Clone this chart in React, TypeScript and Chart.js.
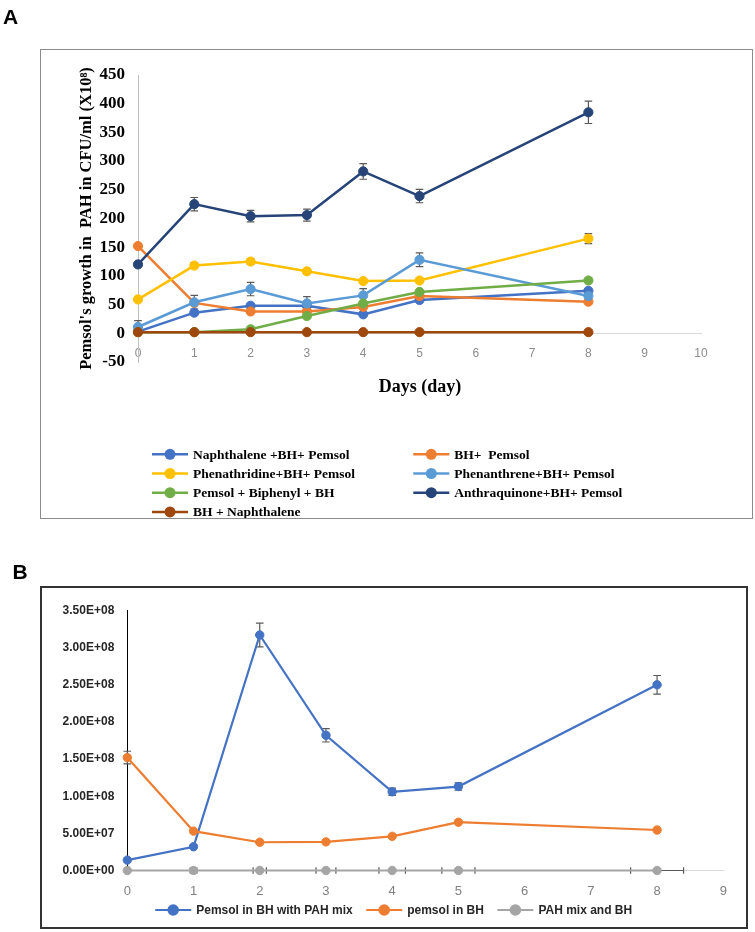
import React, { useEffect, useRef } from "react";
import { Chart, registerables } from "chart.js";

Chart.register(...registerables);

// ---------------- Panel A data ----------------
const daysA = [0, 1, 2, 3, 4, 5, 8];
const labelsA = [
  "Naphthalene +BH+ Pemsol",
  "BH+  Pemsol",
  "Phenathridine+BH+ Pemsol",
  "Phenanthrene+BH+ Pemsol",
  "Pemsol + Biphenyl + BH",
  "Anthraquinone+BH+ Pemsol",
  "BH + Naphthalene",
];
const colorsA = ["#4472C4", "#ED7D31", "#FFC000", "#5B9BD5", "#70AD47", "#264478", "#9E480E"];
const naphthaleneBhPemsol = [3, 36, 48, 48, 33, 58, 74];
const bhPemsol = [152, 53, 38, 38, 46, 65, 55];
const phenathridineBhPemsol = [59, 118, 125, 108, 91, 92, 165];
const phenanthreneBhPemsol = [11, 54, 77, 52, 66, 128, 65];
const pemsolBiphenylBh = [2, 2, 7, 30, 52, 72, 92];
const anthraquinoneBhPemsol = [120, 225, 204, 206, 282, 239, 385];
const bhNaphthalene = [2, 2, 2, 2, 2, 2, 2];
const noErr = [0, 0, 0, 0, 0, 0, 0];
const phenathridineErr = [0, 5, 5, 4, 3, 3, 8.7];
const phenanthreneErr = [11, 12, 11.6, 12, 12, 12, 0];
const anthraquinoneErr = [0, 11.6, 10, 10.5, 13.6, 11.6, 19.5];
const valuesA = [
  naphthaleneBhPemsol,
  bhPemsol,
  phenathridineBhPemsol,
  phenanthreneBhPemsol,
  pemsolBiphenylBh,
  anthraquinoneBhPemsol,
  bhNaphthalene,
];
const errorsA = [noErr, noErr, phenathridineErr, phenanthreneErr, noErr, anthraquinoneErr, noErr];
const yTitleA = "Pemsol's growth in  PAH in CFU/ml (X10\u2078)";
const xTitleA = "Days (day)";

// ---------------- Panel B data ----------------
const daysB = [0, 1, 2, 3, 4, 5, 8];
const labelsB = ["Pemsol in BH with PAH mix", "pemsol in BH", "PAH mix and BH"];
const colorsB = ["#4472C4", "#ED7D31", "#A5A5A5"];
const pemsolBhPahMix = [1.4e7, 3.2e7, 3.17e8, 1.82e8, 1.06e8, 1.13e8, 2.5e8];
const pemsolInBh = [1.52e8, 5.3e7, 3.8e7, 3.85e7, 4.6e7, 6.5e7, 5.45e7];
const pahMixBh = [0, 0, 0, 0, 0, 0, 0];
const pemsolBhPahMixErr = [0, 0, 1.6e7, 9e6, 5e6, 5e6, 1.25e7];
const pemsolInBhErr = [8.5e6, 0, 0, 0, 0, 0, 0];
const pahMixBhErrX = [0, 0.05, 0.1, 0.15, 0.2, 0.25, 0.4];

const SERIF = '"Liberation Serif", "Times New Roman", serif';
const SANS = '"Liberation Sans", Arial, sans-serif';

function toPoints(xs: number[], ys: number[]) {
  return xs.map((x, i) => ({ x, y: ys[i] }));
}

function sci(v: number): string {
  if (Math.abs(v) < 1e-9) return "0.00E+00";
  const e = Math.floor(Math.log10(Math.abs(v)) + 1e-9);
  const m = v / Math.pow(10, e);
  return m.toFixed(2) + "E" + (e < 0 ? "-" : "+") + String(Math.abs(e)).padStart(2, "0");
}

const errorBarPlugin = {
  id: "errorBars",
  beforeDatasetsDraw(chart: any) {
    const { ctx } = chart;
    const xs = chart.scales.x;
    const ys = chart.scales.y;
    ctx.save();
    ctx.strokeStyle = "#595959";
    ctx.lineWidth = 1.2;
    const cap = 3.8;
    chart.data.datasets.forEach((ds: any) => {
      ds.data.forEach((p: any, i: number) => {
        const px = xs.getPixelForValue(p.x);
        const py = ys.getPixelForValue(p.y);
        const ey = ds.errY ? ds.errY[i] : 0;
        if (ey) {
          const t = ys.getPixelForValue(p.y + ey);
          const b = ys.getPixelForValue(p.y - ey);
          ctx.beginPath();
          ctx.moveTo(px, t);
          ctx.lineTo(px, b);
          ctx.moveTo(px - cap, t);
          ctx.lineTo(px + cap, t);
          ctx.moveTo(px - cap, b);
          ctx.lineTo(px + cap, b);
          ctx.stroke();
        }
        const ex = ds.errX ? ds.errX[i] : 0;
        if (ex) {
          const l = xs.getPixelForValue(p.x - ex);
          const r = xs.getPixelForValue(p.x + ex);
          ctx.beginPath();
          ctx.moveTo(l, py);
          ctx.lineTo(r, py);
          ctx.moveTo(l, py - 3.3);
          ctx.lineTo(l, py + 3.3);
          ctx.moveTo(r, py - 3.3);
          ctx.lineTo(r, py + 3.3);
          ctx.stroke();
        }
      });
    });
    ctx.restore();
  },
};

function drawMarker(ctx: any, x: number, y: number, color: string, lw: number, r: number) {
  ctx.save();
  ctx.strokeStyle = color;
  ctx.lineWidth = lw;
  ctx.beginPath();
  ctx.moveTo(x, y);
  ctx.lineTo(x + 36, y);
  ctx.stroke();
  ctx.fillStyle = color;
  ctx.beginPath();
  ctx.arc(x + 18, y, r, 0, Math.PI * 2);
  ctx.fill();
  ctx.restore();
}

const legendAPlugin = {
  id: "legendA",
  afterDraw(chart: any) {
    const { ctx } = chart;
    const colX = [152, 413.3];
    const y0 = 454.3;
    const step = 19.2;
    chart.data.datasets.forEach((ds: any, i: number) => {
      const col = i % 2;
      const row = Math.floor(i / 2);
      const x = colX[col];
      const y = y0 + row * step;
      drawMarker(ctx, x, y, ds.borderColor, 2.5, 5.5);
      ctx.save();
      ctx.fillStyle = "#000";
      ctx.font = "bold 13.5px " + SERIF;
      ctx.textBaseline = "middle";
      ctx.textAlign = "left";
      ctx.fillText(ds.label, x + 41, y + 1);
      ctx.restore();
    });
    ctx.save();
    ctx.fillStyle = "#000";
    ctx.font = "bold 18px " + SERIF;
    ctx.textAlign = "center";
    ctx.textBaseline = "alphabetic";
    ctx.fillText(xTitleA, 420, 392);
    ctx.restore();
  },
};

const legendBPlugin = {
  id: "legendB",
  afterDraw(chart: any) {
    const { ctx } = chart;
    ctx.save();
    ctx.font = "bold 12px " + SANS;
    const widths = chart.data.datasets.map((ds: any) => ctx.measureText(ds.label).width);
    const gap = 13.5;
    const total = widths.reduce((a: number, w: number) => a + 41 + w, 0) + gap * (widths.length - 1);
    let x = 393.7 - total / 2;
    const y = 370;
    chart.data.datasets.forEach((ds: any, i: number) => {
      drawMarker(ctx, x, y, ds.borderColor, 2.2, 5.8);
      ctx.fillStyle = "#262626";
      ctx.font = "bold 12px " + SANS;
      ctx.textBaseline = "middle";
      ctx.textAlign = "left";
      ctx.fillText(ds.label, x + 41, y + 1);
      x += 41 + widths[i] + gap;
    });
    ctx.restore();
  },
};

function ChartA() {
  const ref = useRef<HTMLCanvasElement | null>(null);
  useEffect(() => {
    if (!ref.current) return;
    const n = valuesA.length;
    const chart = new Chart(ref.current, {
      type: "line",
      data: {
        datasets: valuesA.map((vals, i) => ({
          label: labelsA[i],
          data: toPoints(daysA, vals),
          borderColor: colorsA[i],
          backgroundColor: colorsA[i],
          pointBackgroundColor: colorsA[i],
          pointBorderColor: colorsA[i],
          borderWidth: 2.5,
          pointRadius: 4.6,
          pointBorderWidth: 1,
          tension: 0,
          clip: false,
          order: n - i,
          errY: errorsA[i],
        })) as any,
      },
      options: {
        animation: false,
        responsive: false,
        devicePixelRatio: 1,
        events: [],
        layout: { padding: { left: 73, right: 54, top: 75, bottom: 178 } },
        plugins: { legend: { display: false }, tooltip: { enabled: false }, title: { display: false } },
        scales: {
          x: {
            type: "linear",
            position: { y: 0 } as any,
            min: 0,
            max: 10,
            ticks: { stepSize: 1, color: "#8c8c8c", font: { family: SANS, size: 12 }, padding: 13, maxRotation: 0 },
            grid: { display: false, drawTicks: false },
            border: { display: true, color: "#D9D9D9", width: 1 },
          },
          y: {
            type: "linear",
            min: -50,
            max: 450,
            ticks: { stepSize: 50, color: "#000", font: { family: SERIF, size: 17, weight: "bold" }, padding: 13 },
            grid: { display: false, drawTicks: false },
            border: { display: true, color: "#BFBFBF", width: 1 },
            title: {
              display: true,
              text: yTitleA,
              color: "#000",
              font: { family: SERIF, size: 16.5, weight: "bold" },
              padding: { top: 4, bottom: 4 },
            },
            afterFit: (scale: any) => {
              scale.width = 65;
            },
          },
        },
      } as any,
      plugins: [errorBarPlugin, legendAPlugin],
    });
    return () => chart.destroy();
  }, []);
  return (
    <canvas
      ref={ref}
      width={755}
      height={540}
      style={{ position: "absolute", left: 0, top: 0, width: 755, height: 540 }}
    />
  );
}

function ChartB() {
  const ref = useRef<HTMLCanvasElement | null>(null);
  useEffect(() => {
    if (!ref.current) return;
    const vals = [pemsolBhPahMix, pemsolInBh, pahMixBh];
    const errY = [pemsolBhPahMixErr, pemsolInBhErr, null];
    const errX = [null, null, pahMixBhErrX];
    const chart = new Chart(ref.current, {
      type: "line",
      data: {
        datasets: vals.map((v, i) => ({
          label: labelsB[i],
          data: toPoints(daysB, v),
          borderColor: colorsB[i],
          backgroundColor: colorsB[i],
          pointBackgroundColor: colorsB[i],
          pointBorderColor: colorsB[i],
          borderWidth: 2.2,
          pointRadius: 4.2,
          pointBorderWidth: 1,
          tension: 0,
          clip: false,
          order: 3 - i,
          errY: errY[i],
          errX: errX[i],
        })) as any,
      },
      options: {
        animation: false,
        responsive: false,
        devicePixelRatio: 1,
        events: [],
        layout: { padding: { left: 37.3, right: 31.7, top: 70.5, bottom: 31.5 } },
        plugins: { legend: { display: false }, tooltip: { enabled: false }, title: { display: false } },
        scales: {
          x: {
            type: "linear",
            position: "bottom",
            min: 0,
            max: 9,
            ticks: { stepSize: 1, color: "#7f7f7f", font: { family: SANS, size: 13 }, padding: 12.7, maxRotation: 0 },
            grid: { display: false, drawTicks: false },
            border: { display: true, color: "#D9D9D9", width: 1 },
            afterFit: (scale: any) => {
              scale.height = 30;
            },
          },
          y: {
            type: "linear",
            min: 0,
            max: 3.5e8,
            ticks: {
              stepSize: 5e7,
              color: "#262626",
              font: { family: SANS, size: 12, weight: "bold" },
              padding: 13,
              callback: (v: any) => sci(Number(v)),
            },
            grid: { display: false, drawTicks: false },
            border: { display: true, color: "#000", width: 1 },
            afterFit: (scale: any) => {
              scale.width = 90;
            },
          },
        },
      } as any,
      plugins: [errorBarPlugin, legendBPlugin],
    });
    return () => chart.destroy();
  }, []);
  return (
    <canvas
      ref={ref}
      width={755}
      height={392}
      style={{ position: "absolute", left: 0, top: 540, width: 755, height: 392 }}
    />
  );
}

export default function App() {
  return (
    <div
      style={{
        position: "absolute",
        left: 0,
        top: 0,
        width: 755,
        height: 932,
        overflow: "hidden",
        background: "#fff",
      }}
    >
      <ChartA />
      <ChartB />
      <div
        style={{
          position: "absolute",
          left: 40,
          top: 49,
          width: 713,
          height: 470,
          boxSizing: "border-box",
          border: "1px solid #8c8c8c",
          pointerEvents: "none",
        }}
      />
      <div
        style={{
          position: "absolute",
          left: 40,
          top: 586,
          width: 708,
          height: 343,
          boxSizing: "border-box",
          border: "2px solid #333",
          pointerEvents: "none",
        }}
      />
      <div
        style={{
          position: "absolute",
          left: 3,
          top: 6,
          font: "bold 21px " + SANS,
          lineHeight: 1,
          color: "#000",
        }}
      >
        A
      </div>
      <div
        style={{
          position: "absolute",
          left: 12.5,
          top: 561,
          font: "bold 21px " + SANS,
          lineHeight: 1,
          color: "#000",
        }}
      >
        B
      </div>
    </div>
  );
}
